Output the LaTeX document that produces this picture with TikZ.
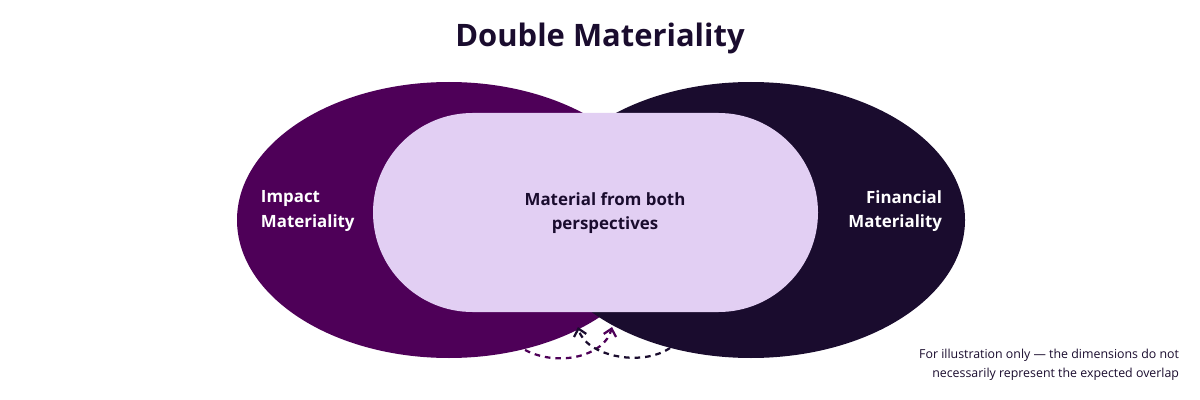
\documentclass[tikz,border=0pt]{standalone}
\usepackage{fontspec}
\setmainfont{Open Sans}
\usetikzlibrary{arrows.meta}
\definecolor{impact}{HTML}{4E0058}
\definecolor{fin}{HTML}{1A0C2E}
\definecolor{pill}{HTML}{E2CFF3}
\begin{document}
\begin{tikzpicture}[x=0.025cm,y=-0.025cm,
  lbl/.style={font=\bfseries\fontsize{12}{17.5}\selectfont,align=left},
  darr/.style={dashed,line width=1.6pt,dash pattern=on 4pt off 3.5pt,-{Straight Barb[length=5pt,width=9pt]}}]
\useasboundingbox (0,0) rectangle (1200,400);
\fill[impact] (449,220) ellipse [x radius=212, y radius=138];
\fill[fin] (751,220) ellipse [x radius=214, y radius=138];
\fill[pill,rounded corners=99.5*0.025cm] (373,113) rectangle (818,312);
\node (title) at (600,38) {\bfseries\fontsize{22}{28}\selectfont\color{fin}Double Materiality};
\node[lbl,text=white,anchor=west] (imp) at (256,211) {Impact\\Materiality};
\node[lbl,text=white,align=right,anchor=east] (fm) at (947,211) {Financial\\Materiality};
\node[lbl,text=fin,align=center] (both) at (605,213) {Material from both\\perspectives};
\node[anchor=east,align=right,text=fin,font=\fontsize{8.8}{13.5}\selectfont] (note) at (1184,365) {For illustration only — the dimensions do not\\necessarily represent the expected overlap};
\coordinate (a1) at (525,350); \coordinate (a2) at (612,327);
\coordinate (b1) at (670,348); \coordinate (b2) at (578,327);
\draw[darr,impact] (a1) .. controls (560,368) and (605,355) .. (a2);
\draw[darr,fin] (b1) .. controls (640,368) and (585,355) .. (b2);
\end{tikzpicture}
\end{document}
